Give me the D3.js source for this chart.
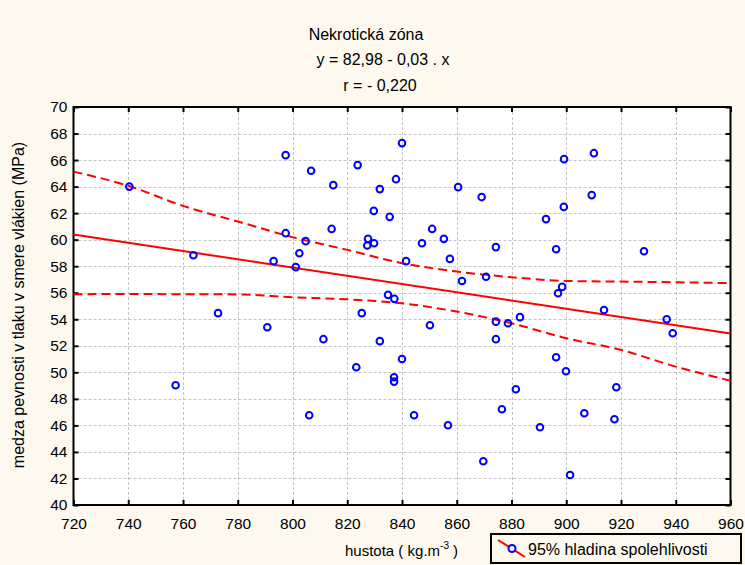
<!DOCTYPE html>
<html><head><meta charset="utf-8">
<script src="https://cdn.jsdelivr.net/npm/d3@7"></script>
<style>
html,body{margin:0;padding:0;background:#fdf9ee;}
svg{display:block;font-family:"Liberation Sans",Arial,sans-serif;}
</style></head>
<body>
<svg id="chart" width="745" height="565"></svg>
<script>
// ---- data ----
const density = [740.4,757.3,763.8,772.8,790.8,793.1,797.5,797.5,801.2,802.5,804.8,806.1,806.8,811.3,814.3,814.9,823.3,823.8,825.3,827.3,827.6,829.7,829.8,831.9,831.9,834.9,835.5,837.1,837.1,837.2,837.8,840.0,840.0,841.5,844.4,847.3,850.2,851.0,855.3,856.8,857.5,860.5,861.9,869.1,869.7,870.7,874.3,874.3,874.3,876.5,878.7,881.6,883.1,890.4,892.6,896.3,896.3,897.0,898.5,899.1,899.2,899.9,901.4,906.6,909.3,910.1,913.8,917.6,918.3,928.4,936.7,938.9];
const strength = [64.0,49.03,58.83,54.46,53.40,58.38,66.37,60.49,57.93,58.98,59.89,46.76,65.2,52.50,60.81,64.11,50.38,65.62,54.46,59.56,60.06,62.17,59.73,63.81,52.35,55.84,61.72,49.63,49.30,55.54,64.56,67.28,51.0,58.38,46.76,59.73,53.55,60.81,60.06,46.01,58.55,63.96,56.89,63.21,43.30,57.20,59.44,53.82,52.50,47.22,53.70,48.73,54.16,45.86,61.55,59.28,51.14,55.96,56.44,62.47,66.07,50.08,42.26,46.92,63.36,66.52,54.7,46.46,48.88,59.13,54.0,52.95];
const regIntercept = 82.78;
const regSlope = -0.0311;
const bandX = [720,740,760,780,800,820,840,860,880,900,920,940,960];
const upperBand = [65.13,64.06,62.55,61.37,60.19,59.23,58.23,57.6,57.17,56.89,56.84,56.79,56.72];
const lowerBand = [55.89,55.9,55.89,55.87,55.66,55.5,55.2,54.58,53.70,52.57,51.69,50.43,49.37];
const xTicks = [720,740,760,780,800,820,840,860,880,900,920,940,960];
const yTicks = [40,42,44,46,48,50,52,54,56,58,60,62,64,66,68,70];
const titleLines = ["Nekrotická zóna","y = 82,98 - 0,03 . x","r = - 0,220"];
const yLabel = "medza pevnosti v tlaku v smere vlákien (MPa)";
const legendLabel = "95% hladina spolehlivosti";

// ---- layout ----
const L = 73.5, R = 730.5, T = 107, B = 505;
const svg = d3.select("#chart");
const x = d3.scaleLinear().domain([720,960]).range([L,R]);
const y = d3.scaleLinear().domain([40,70]).range([B,T]);

svg.append("rect").attr("x",L).attr("y",T).attr("width",R-L).attr("height",B-T).attr("fill","#fff");

// grid
const grid = svg.append("g").attr("stroke","#c4c4c4").attr("stroke-width",1).attr("stroke-dasharray","3,2");
grid.selectAll(".gx").data(xTicks.slice(1,-1)).join("line")
  .attr("x1",d=>Math.round(x(d))+0.5).attr("x2",d=>Math.round(x(d))+0.5).attr("y1",T).attr("y2",B);
grid.selectAll(".gy").data(yTicks.slice(1,-1)).join("line")
  .attr("y1",d=>Math.round(y(d))+0.5).attr("y2",d=>Math.round(y(d))+0.5).attr("x1",L).attr("x2",R);

// axes
function styleAxis(g){
  g.select(".domain").remove();
  g.selectAll(".tick line").attr("stroke","#000").attr("stroke-width",2);
  g.selectAll("text").attr("font-size","15.5px").attr("fill","#000").attr("font-family","Liberation Sans, Arial, sans-serif");
}
svg.append("g").attr("transform",`translate(0,${B})`)
  .call(d3.axisBottom(x).tickValues(xTicks).tickSizeInner(-5).tickSizeOuter(0).tickPadding(13).tickFormat(d3.format("d")))
  .call(styleAxis);
svg.append("g").attr("transform",`translate(${L},0)`)
  .call(d3.axisLeft(y).tickValues(yTicks).tickSizeInner(-5).tickSizeOuter(0).tickPadding(6).tickFormat(d3.format("d")))
  .call(styleAxis);
svg.append("g").attr("transform",`translate(0,${T})`)
  .call(d3.axisTop(x).tickValues(xTicks).tickSizeInner(-5).tickSizeOuter(0).tickFormat(""))
  .call(styleAxis);
svg.append("g").attr("transform",`translate(${R},0)`)
  .call(d3.axisRight(y).tickValues(yTicks).tickSizeInner(-5).tickSizeOuter(0).tickFormat(""))
  .call(styleAxis);

// frame
svg.append("rect").attr("x",L).attr("y",T).attr("width",R-L).attr("height",B-T)
  .attr("fill","none").attr("stroke","#000").attr("stroke-width",2);

// confidence bands
const line = d3.line().x(d=>x(d[0])).y(d=>y(d[1])).curve(d3.curveMonotoneX);
[upperBand, lowerBand].forEach(b=>{
  svg.append("path").datum(bandX.map((v,i)=>[v,b[i]])).attr("d",line)
    .attr("fill","none").attr("stroke","#f00").attr("stroke-width",2).attr("stroke-dasharray","9,5");
});
// regression
svg.append("path").datum([720,960].map(v=>[v,regIntercept+regSlope*v])).attr("d",line)
  .attr("fill","none").attr("stroke","#f00").attr("stroke-width",2);

// points
svg.append("g").selectAll("circle").data(density.map((d,i)=>[d,strength[i]])).join("circle")
  .attr("cx",d=>x(d[0])).attr("cy",d=>y(d[1])).attr("r",3.3)
  .attr("fill","none").attr("stroke","#0000ff").attr("stroke-width",2);

// title
const tpos = [[366,40],[383,65],[380,91]];
svg.append("g").selectAll("text").data(titleLines).join("text")
  .attr("x",(d,i)=>tpos[i][0]).attr("y",(d,i)=>tpos[i][1]).attr("text-anchor","middle")
  .attr("font-size","16px").text(d=>d);

// axis labels
const xl = svg.append("text").attr("x",345).attr("y",556).attr("font-size","15px");
xl.append("tspan").text("hustota ( kg.m");
xl.append("tspan").attr("dy",-7).attr("font-size","10px").text("-3");
xl.append("tspan").attr("dy",7).text(" )");
svg.append("text").attr("transform","translate(24,305) rotate(-90)").attr("text-anchor","middle")
  .attr("font-size","16px").text(yLabel);

// legend
svg.append("rect").attr("x",491).attr("y",534).attr("width",250).attr("height",29)
  .attr("fill","none").attr("stroke","#000").attr("stroke-width",2);
svg.append("line").attr("x1",498).attr("y1",540).attr("x2",525).attr("y2",557)
  .attr("stroke","#f00").attr("stroke-width",2);
svg.append("circle").attr("cx",512).attr("cy",548.5).attr("r",3.5).attr("fill","#fff")
  .attr("stroke","#0000ff").attr("stroke-width",2);
svg.append("text").attr("x",528).attr("y",555).attr("font-size","16px").text(legendLabel);
</script>
</body></html>
